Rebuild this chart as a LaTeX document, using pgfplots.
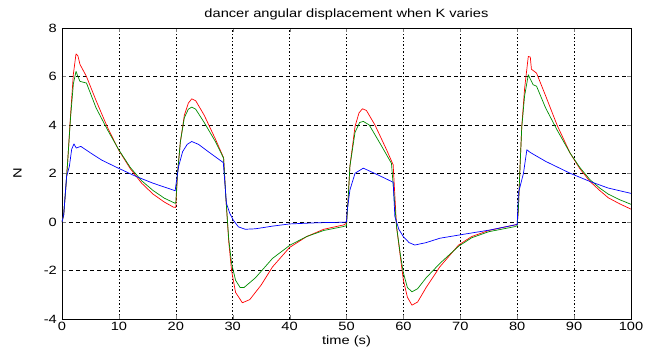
\documentclass[border=0pt]{standalone}
\usepackage{pgfplots}
\pgfplotsset{compat=1.18}
\usepackage{fontspec}
\setmainfont{Liberation Sans}[FakeStretch=1.22]
\definecolor{mred}{RGB}{255,0,0}
\definecolor{mgreen}{RGB}{0,140,0}
\definecolor{mblue}{RGB}{0,0,255}
\begin{document}
\fontsize{12}{14}\selectfont
\begin{tikzpicture}[x=1pt,y=1pt]
\begin{axis}[
  name=ax,
  at={(0,0)}, anchor=south west,
  scale only axis,
  width=569pt, height=291pt,
  xmin=0, xmax=100, ymin=-4, ymax=8,
  xtick={0,10,...,100}, ytick={-4,-2,...,8},
  tick align=inside, major tick length=4pt,
  xtick pos=both, ytick pos=both,
  /pgf/number format/assume math mode=true,
  ticklabel style={font=\fontsize{12}{14}\selectfont},
  xticklabel style={yshift=1pt},
  yticklabel style={xshift=-1pt},
  grid=major,
  x grid style={black, dash pattern=on 1.5pt off 2pt, line width=0.5pt},
  y grid style={black, dash pattern=on 4pt off 3pt, line width=0.5pt},
  axis line style={black, line width=0.6pt},
  title={dancer angular displacement when K varies},
  title style={font=\fontsize{12}{14}\selectfont, yshift=-2pt},
  xlabel={time (s)},
  xlabel style={font=\fontsize{12}{14}\selectfont, yshift=3pt},
  ylabel={N},
  ylabel style={font=\fontsize{12}{14}\selectfont, yshift=14pt},
  every axis plot/.append style={line width=0.7pt, line join=round},
]
% red
\addplot[mred] coordinates {
(0,0) (0.3,0.3) (0.7,1.5) (1,2.5) (1.5,4.4) (2,6.1) (2.46,6.93) (2.8,6.85) (3.16,6.5) (4.3,6.0) (6,5.0) (8,3.9) (10,2.95) (12,2.2) (14,1.6) (16,1.15) (18,0.82) (19.6,0.61)
(20,0.6) (20.3,2.0) (20.8,3.3) (21.5,4.4) (22.2,4.9) (22.8,5.08) (23.5,5.0) (25,4.4) (27,3.4) (28.4,2.65) (28.8,1.0) (29.3,-0.8) (29.8,-2.0) (30.5,-2.9) (31.7,-3.33) (33,-3.2) (35,-2.6) (37,-1.85) (40,-1.05) (43,-0.6) (46,-0.3) (49.5,-0.12)
(50,-0.05) (50.3,1.0) (50.6,2.3) (51.5,3.94) (52.2,4.5) (52.8,4.67) (53.5,4.6) (55,4.0) (57,3.0) (58.2,2.36) (58.8,-0.2) (59.5,-1.5) (60,-2.4) (60.7,-3.1) (61.5,-3.43) (62.5,-3.3) (64,-2.7) (66.4,-1.85) (69.7,-0.95) (72,-0.6) (75,-0.35) (79.6,-0.12)
(80,-0.1) (80.2,0.5) (80.5,2.3) (80.8,3.94) (81.3,5.5) (81.95,6.83) (82.3,6.8) (82.5,6.3) (83.4,6.14) (85,5.2) (87,4.0) (89.3,2.84) (91,2.2) (92.8,1.67) (94.5,1.3) (96,1.0) (98,0.75) (100,0.53)
};
% green
\addplot[mgreen] coordinates {
(0,0) (0.3,0.3) (0.7,1.5) (1,2.5) (1.5,4.3) (2,5.7) (2.46,6.21) (2.8,6.0) (3.16,5.8) (4.3,5.73) (6,4.7) (8,3.8) (10,2.97) (12,2.25) (14,1.7) (16,1.3) (18,0.98) (19.9,0.77)
(20,0.8) (20.3,2.0) (20.8,3.3) (21.5,4.3) (22.2,4.65) (22.8,4.74) (23.5,4.65) (25,4.1) (27,3.3) (28.4,2.63) (28.8,1.0) (29.3,-0.7) (29.8,-1.7) (30.5,-2.4) (31.3,-2.7) (32,-2.7) (34,-2.3) (37,-1.5) (40.1,-0.95) (43,-0.6) (46,-0.35) (49.4,-0.19)
(50,-0.15) (50.3,1.0) (50.6,2.3) (51.5,3.7) (52.3,4.1) (52.95,4.15) (54,4.0) (56,3.2) (57.9,2.42) (58.8,-0.2) (59.5,-1.4) (60,-2.1) (60.7,-2.7) (61.5,-2.88) (62.5,-2.75) (64,-2.3) (66.4,-1.71) (69.7,-1.0) (72,-0.65) (75,-0.4) (79.6,-0.19)
(80,-0.15) (80.2,0.5) (80.5,2.3) (80.8,3.9) (81.3,5.2) (81.95,6.07) (82.3,5.9) (82.8,5.66) (83.4,5.6) (85,4.7) (87,3.8) (89.3,2.84) (91,2.25) (92.8,1.74) (94.5,1.4) (96,1.15) (98,0.92) (100,0.73)
};
% blue
\addplot[mblue] coordinates {
(0,0) (0.3,0.3) (0.8,1.87) (1.3,2.3) (1.7,3.0) (2.1,3.22) (2.5,3.05) (3.3,3.12) (5,2.85) (7,2.55) (9.9,2.22) (13.1,1.87) (16,1.6) (19.9,1.29)
(20,1.5) (20.5,2.3) (21.2,2.9) (22,3.2) (22.8,3.32) (24,3.2) (26,2.85) (28.35,2.45) (28.9,0.77) (29.5,0.35) (30.1,0.08) (31,-0.2) (32.2,-0.30) (34,-0.28) (37,-0.17) (40,-0.08) (45,-0.03) (49.4,-0.01)
(50,0.0) (50.1,0.43) (50.6,1.32) (51.5,2.01) (52.95,2.22) (55,2.0) (58.2,1.64) (58.5,0.22) (59.2,-0.3) (60,-0.61) (61,-0.85) (62,-0.95) (64,-0.85) (66.4,-0.67) (69.7,-0.54) (75.2,-0.33) (79.6,-0.12)
(80,-0.1) (80.2,1.18) (81.1,2.01) (81.7,2.98) (82.1,2.9) (82.5,2.84) (85,2.5) (89.3,2.01) (92.8,1.67) (96,1.4) (100,1.18)
};
\end{axis}
\path (-62pt,-32pt) rectangle (591pt,319pt);
\end{tikzpicture}
\end{document}
